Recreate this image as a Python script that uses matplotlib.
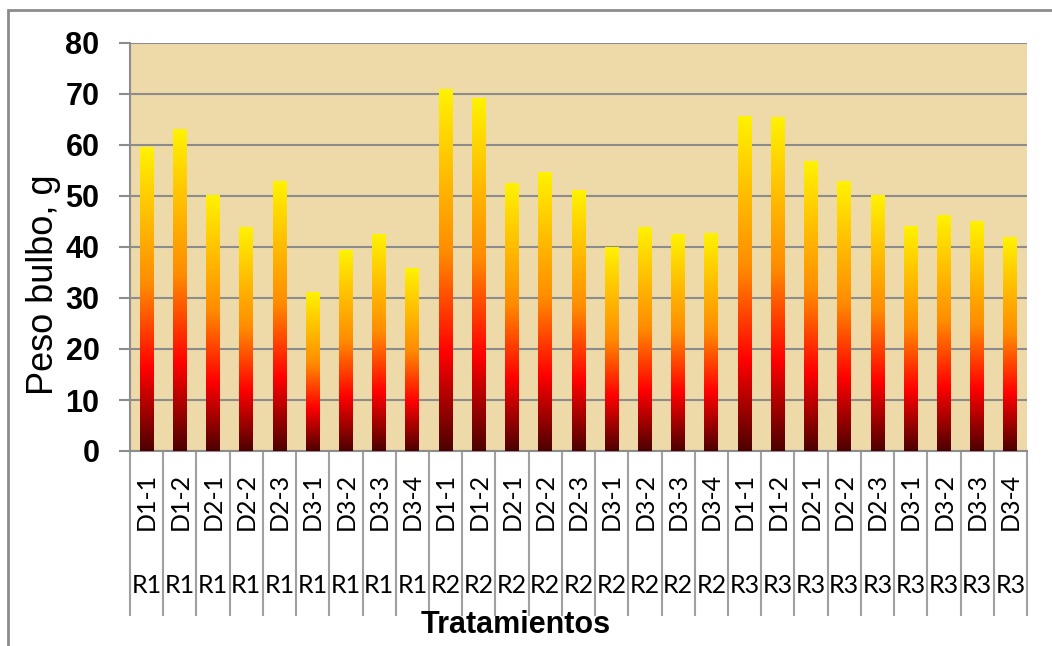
import matplotlib
matplotlib.use("Agg")
import matplotlib.pyplot as plt
import matplotlib.transforms as mtransforms
from matplotlib.colors import LinearSegmentedColormap
from matplotlib.patches import Rectangle
import numpy as np

# treatments (dose-level) repeated for each block R1..R3
doses = ["D1-1", "D1-2", "D2-1", "D2-2", "D2-3", "D3-1", "D3-2", "D3-3", "D3-4"]
blocks = ["R1", "R2", "R3"]

r1 = [59.6, 63.1, 50.1, 43.8, 52.9, 31.0, 39.4, 42.5, 35.8]
r2 = [70.9, 69.2, 52.4, 54.7, 51.1, 39.9, 43.8, 42.5, 42.6]
r3 = [65.5, 65.3, 56.7, 52.9, 50.1, 44.1, 46.2, 45.0, 41.9]

yticks = [0, 10, 20, 30, 40, 50, 60, 70, 80]

values = r1 + r2 + r3
dose_labels = doses * 3
block_labels = [b for b in blocks for _ in doses]

W, H = 1052, 646
GRAY = "#8c8c8c"
CAT_FONT = "Lato"
NUM_FONT = "Liberation Sans"

fig = plt.figure(figsize=(W / 100, H / 100), dpi=100)
ax = fig.add_axes([130 / W, 1 - 451 / H, 897 / W, 408 / H])
ax.set_facecolor("#eedaa8")

cmap = LinearSegmentedColormap.from_list(
    "fire", [(0, "#4d0000"), (0.27, "#ff0000"), (0.55, "#ff8c00"), (1.0, "#fff200")])
grad = np.linspace(0, 1, 256).reshape(-1, 1)

x = np.arange(len(values))
bars = ax.bar(x, values, width=0.42, color="none", zorder=3)
for b in bars:
    ax.imshow(grad, extent=[b.get_x(), b.get_x() + b.get_width(), 0, b.get_height()],
              origin="lower", aspect="auto", cmap=cmap, zorder=3, interpolation="bilinear")

ax.set_xlim(-0.5, len(values) - 0.5)
ax.set_ylim(0, 80)
ax.set_yticks(yticks)
ax.set_xticks([])
ax.yaxis.grid(True, color=GRAY, lw=1.5)
ax.set_axisbelow(True)

for s in ["top", "right"]:
    ax.spines[s].set_visible(False)
for s in ["left", "bottom"]:
    ax.spines[s].set_color(GRAY)
    ax.spines[s].set_linewidth(1.5)

ax.tick_params(axis="y", length=8, width=1.5, color=GRAY, pad=14)
for lab in ax.get_yticklabels():
    lab.set_fontsize(22)
    lab.set_fontweight("bold")
    lab.set_family(NUM_FONT)

# multi-level category axis
trans = mtransforms.blended_transform_factory(ax.transData, ax.transAxes)
for edge in np.arange(-0.5, len(values), 1.0):
    ax.plot([edge, edge], [0, -0.402], transform=trans, color="#a0a0a0",
            lw=1.5, clip_on=False)
for i in x:
    ax.text(i, -0.1225, dose_labels[i], transform=trans, rotation=90,
            ha="center", va="center", fontsize=18, family=CAT_FONT)
    ax.text(i, (451 - 593) / 408, block_labels[i], transform=trans,
            ha="center", va="baseline", fontsize=18, family=CAT_FONT)

fig.text(44 / W, 1 - 285 / H, "Peso bulbo, g", rotation=90, ha="center",
         va="center", fontsize=26, family=NUM_FONT)
fig.text(516 / W, 1 - 633 / H, "Tratamientos", ha="center", va="baseline",
         fontsize=22, fontweight="bold", family=NUM_FONT)

# outer chart border
fig.add_artist(Rectangle((8 / W, -0.1), 1.2, 1 - 10 / H + 0.1, transform=fig.transFigure,
                         fill=False, ec=GRAY, lw=2))

fig.savefig("out.png", dpi=100)
